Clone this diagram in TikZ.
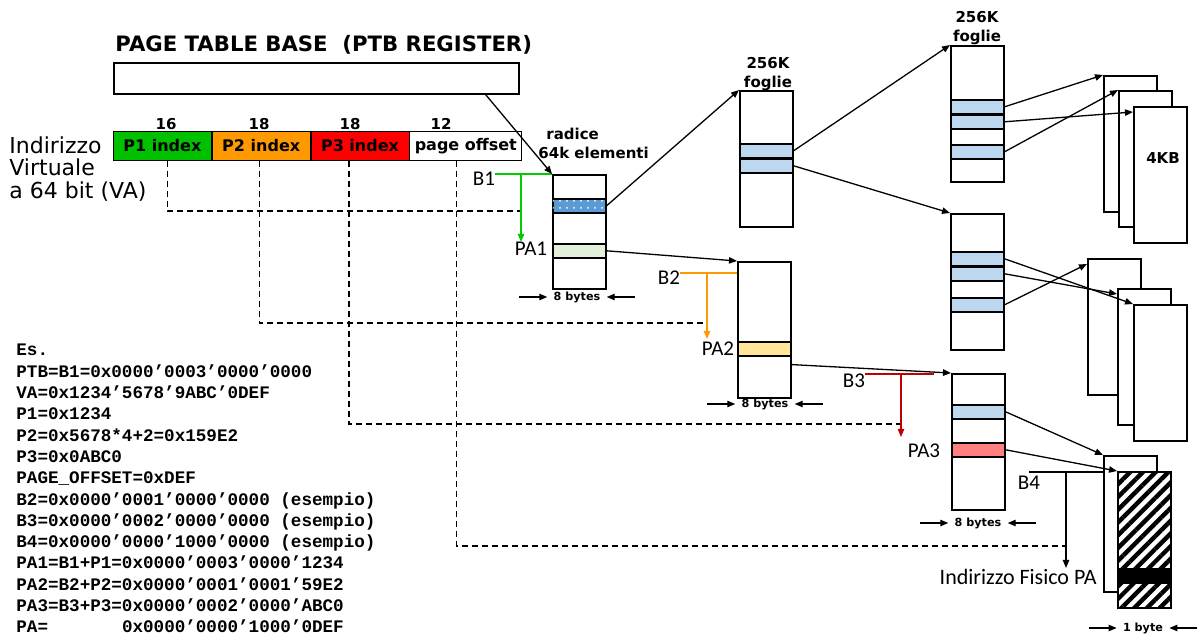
\documentclass[tikz,border=0pt]{standalone}
\usepackage{fontspec}
\setmainfont{DejaVu Sans}
\setmonofont{Liberation Mono}
\newfontfamily\calibrifont{Carlito}
\usetikzlibrary{positioning,arrows.meta,patterns.meta}

\definecolor{pgreen}{RGB}{0,192,0}
\definecolor{porange}{RGB}{255,153,0}
\definecolor{pred}{RGB}{255,0,0}
\definecolor{lgreen}{RGB}{0,204,0}
\definecolor{dred}{RGB}{192,0,0}
\definecolor{dotblue}{RGB}{91,155,213}
\definecolor{lblue}{RGB}{189,215,238}
\definecolor{pagreen}{RGB}{226,239,218}
\definecolor{payellow}{RGB}{255,230,153}
\definecolor{papink}{RGB}{255,128,128}

\begin{document}
\begin{tikzpicture}[
  x=0.5pt, y=-0.5pt,
  >={Triangle[length=4pt,width=3.2pt]},
  lbl/.style={font=\bfseries\fontsize{7.5}{9.5}\selectfont, align=center, inner sep=0pt},
  field/.style={draw, minimum width=49pt, minimum height=14.5pt, inner sep=0pt, font=\bfseries\fontsize{8}{8.5}\selectfont},
  tabella/.style={draw, line width=0.8pt, minimum width=26.5pt, minimum height=68pt, inner sep=0pt, anchor=north west},
  riga/.style={draw, line width=0.8pt, minimum width=26.5pt, minimum height=7pt, inner sep=0pt, anchor=north west, fill=#1},
  pagina/.style={tabella, fill=white},
  addr/.style={font=\calibrifont\fontsize{10.5}{11}\selectfont, inner sep=0pt},
  bytes/.style={font=\bfseries\fontsize{5.6}{6}\selectfont, inner ysep=0pt, inner xsep=3pt},
  freccia/.style={->, line width=0.65pt},
  tratt/.style={line width=0.6pt, dash pattern=on 3pt off 2pt}
]
\useasboundingbox (0,0) rectangle (1199,635);

% registro PTB e indirizzo virtuale
\node[font=\bfseries\fontsize{10.6}{11}\selectfont, anchor=west, inner sep=0pt] (titolo) at (115,45) {PAGE TABLE BASE\ \ (PTB REGISTER)};
\node[draw, line width=0.8pt, minimum width=202.5pt, minimum height=15.5pt, inner sep=0pt, anchor=north west] (ptb) at (113,62) {};

\node[field, fill=pgreen, anchor=north west] (p1) at (113,131) {P1 index};
\node[field, fill=porange, right=0pt of p1] (p2) {P2 index};
\node[field, fill=pred, right=0pt of p2] (p3) {P3 index};
\node[field, minimum width=56pt, right=0pt of p3] (off) {page offset};

\node[lbl] (n1) at (166,124) {16};
\node[lbl] (n2) at (259,124) {18};
\node[lbl] (n3) at (350,124) {18};
\node[lbl] (n4) at (441,124) {12};

\node[font=\fontsize{11}{11.3}\selectfont, align=left, anchor=north west, inner sep=0pt] (va) at (9,136) {Indirizzo\\Virtuale\\a 64 bit (VA)};

% tabelle delle pagine
\node[tabella, minimum height=57pt] (t1) at (552,174) {};
\node[riga=dotblue, postaction={pattern={Dots[distance=3.5pt,radius=0.5pt]}, pattern color=white}] (t1a) at (552,198) {};
\node[riga=pagreen] (t1b) at (552,243) {};
\node[lbl, align=left, anchor=west] (radice) at (538,143) {\hspace{4pt}radice\\64k elementi};

\node[tabella] (t2a) at (739,90) {};
\node[riga=lblue] (t2a1) at (739,143) {};
\node[riga=lblue] (t2a2) at (739,158) {};
\node[lbl] (foglie1) at (768,74) {256K\\foglie};

\node[tabella] (t2b) at (737,261) {};
\node[riga=payellow] (t2b1) at (737,341) {};

\node[tabella] (t3a) at (950,45) {};
\node[riga=lblue] (t3a1) at (950,99) {};
\node[riga=lblue] (t3a2) at (950,114) {};
\node[riga=lblue] (t3a3) at (950,144) {};
\node[lbl] (foglie2) at (977,28) {256K\\foglie};

\node[tabella] (t3b) at (950,213) {};
\node[riga=lblue] (t3b1) at (950,251) {};
\node[riga=lblue] (t3b2) at (950,266) {};
\node[riga=lblue] (t3b3) at (950,297) {};

\node[tabella] (t3c) at (951,373) {};
\node[riga=lblue] (t3c1) at (951,404) {};
\node[riga=papink] (t3c2) at (951,442) {};

% pagine fisiche
\node[pagina] (pgA) at (1103,75) {};
\node[pagina] (pgB) at (1118,90) {};
\node[pagina] (pgC) at (1133,106) {};
\node[lbl] (kb) at (1163,158) {4KB};
\node[pagina] (pgD) at (1087,258) {};
\node[pagina] (pgE) at (1117,288) {};
\node[pagina] (pgF) at (1133,304) {};
\node[pagina] (pgG) at (1103,455) {};
\node[pagina, postaction={pattern={Lines[angle=45,distance=4.5pt,line width=2.2pt]}}] (pgH) at (1117,471) {};
\node[riga=black] (pax) at (1117,568) {};

% larghezze
\node[bytes] (w1) at (577,297) {8 bytes};
\node[bytes] (w2) at (765,404) {8 bytes};
\node[bytes] (w3) at (978,523) {8 bytes};
\node[bytes] (w4) at (1143,628) {1 byte};
\foreach \w in {w1,w2,w3,w4} {
  \draw[freccia] ([xshift=-14pt]\w.west) -- (\w.west);
  \draw[freccia] ([xshift=14pt]\w.east) -- (\w.east);
}

% indirizzi
\node[addr] (b1) at (484,179) {B1};
\node[addr] (pa1) at (531,249) {PA1};
\node[addr] (b2) at (669,278) {B2};
\node[addr] (pa2) at (718,349) {PA2};
\node[addr] (b3) at (854,381) {B3};
\node[addr] (pa3) at (924,451) {PA3};
\node[addr] (b4) at (1029,483) {B4};
\node[addr, font=\calibrifont\fontsize{11}{12}\selectfont, anchor=east] (fisico) at (1097,577) {Indirizzo Fisico PA};

\coordinate (g1) at (521,242);
\coordinate (g2) at (707,339);
\coordinate (g3) at (901,437);
\coordinate (g4) at (1066,568);
\coordinate (o2) at (737,273);
\coordinate (b3fine) at (934,374);
\coordinate (b4fine) at (1103,472);
\coordinate (j1) at (521,211);
\coordinate (j2) at (707,323);
\coordinate (j3) at (901,424);
\coordinate (j4) at (1066,546);

\draw[tratt] ([xshift=2.5pt]p1.south) |- (j1);
\draw[tratt] ([xshift=-1pt]p2.south) |- (j2);
\draw[tratt] ([xshift=-5.5pt]p3.south) |- (j3);
\draw[tratt] ([xshift=-4.5pt]off.south) |- (j4);

\draw[lgreen, line width=0.7pt] (b1.east |- t1.north) -- (t1.north west);
\draw[lgreen, freccia] (g1 |- t1.north) -- (g1);
\draw[porange, line width=0.7pt] ([yshift=2.5pt]b2.east) -- (o2);
\draw[porange, freccia] (g2 |- o2) -- (g2);
\draw[dred, line width=0.7pt] ([yshift=3.5pt]b3.east) -- (b3fine);
\draw[dred, freccia] (g3 |- b3fine) -- (g3);
\draw[line width=0.7pt] (b4.north |- b4fine) -- (b4fine);
\draw[freccia] (g4 |- b4fine) -- (g4);

% puntatori
\draw[freccia] ([xshift=-17pt]ptb.south east) -- (t1.north west);
\draw[freccia] (t1a.east) -- (t2a.north west);
\draw[freccia] (t1b.east) -- (t2b.north west);
\draw[freccia] (t2a1.east) -- (t3a.north west);
\draw[freccia] (t2a2.east) -- (t3b.north west);
\draw[freccia] ([yshift=-4pt]t2b1.south east) -- (t3c.north west);
\draw[freccia] (t3a1.east) -- (pgA.north west);
\draw[freccia] (t3a2.east) -- ([yshift=-3pt]pgC.north west);
\draw[freccia] (t3a3.east) -- (pgB.north west);
\draw[freccia] (t3b1.east) -- (pgF.north west);
\draw[freccia] (t3b2.east) -- ([yshift=-3pt]pgE.north west);
\draw[freccia] (t3b3.east) -- ([yshift=-3pt]pgD.north west);
\draw[freccia] (t3c1.east) -- (pgG.north west);
\draw[freccia] (t3c2.east) -- (pgH.north west);

% esempio
\node[font=\ttfamily\bfseries\fontsize{8.8}{10.65}\selectfont, align=left, anchor=north west, inner sep=0pt] (esempio) at (16,344) {Es.\\
PTB=B1=0x0000’0003’0000’0000\\
VA=0x1234’5678’9ABC’0DEF\\
P1=0x1234\\
P2=0x5678*4+2=0x159E2\\
P3=0x0ABC0\\
PAGE\_OFFSET=0xDEF\\
B2=0x0000’0001’0000’0000 (esempio)\\
B3=0x0000’0002’0000’0000 (esempio)\\
B4=0x0000’0000’1000’0000 (esempio)\\
PA1=B1+P1=0x0000’0003’0000’1234\\
PA2=B2+P2=0x0000’0001’0001’59E2\\
PA3=B3+P3=0x0000’0002’0000’ABC0\\
PA=\hphantom{0000000}0x0000’0000’1000’0DEF};
\end{tikzpicture}
\end{document}
